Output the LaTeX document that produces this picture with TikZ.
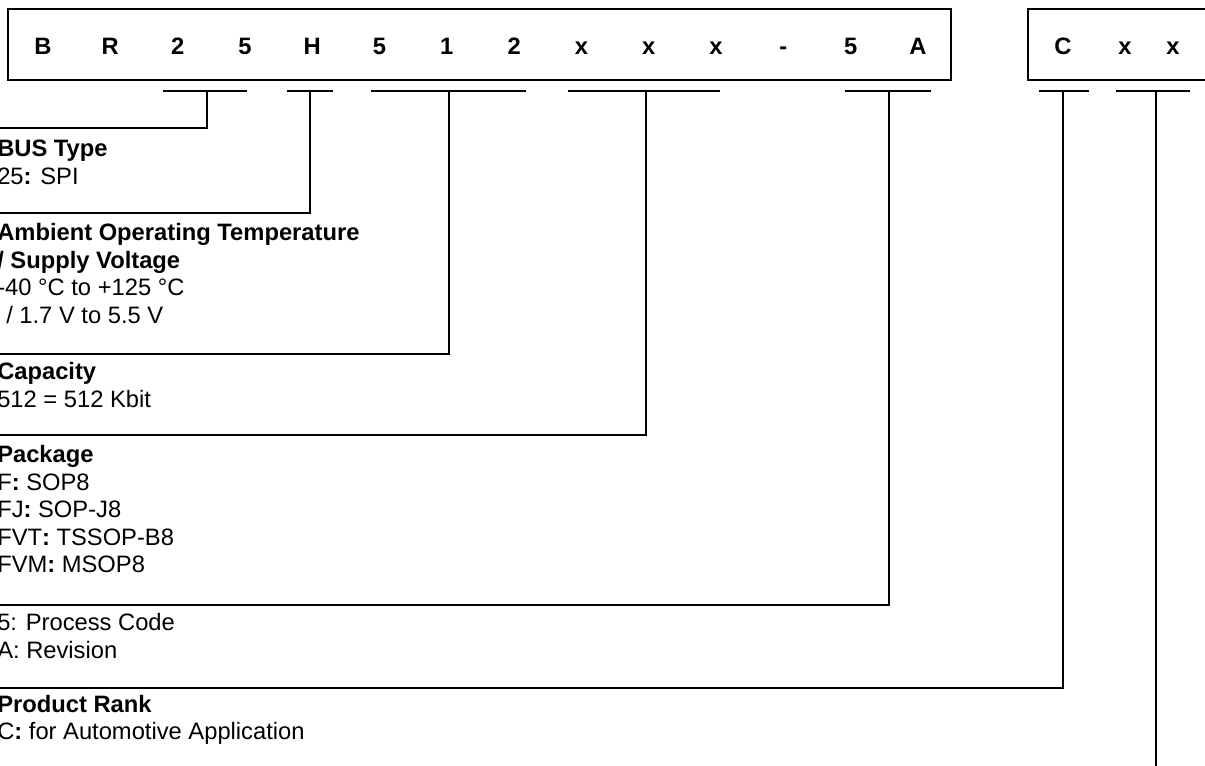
\documentclass[tikz,border=0pt]{standalone}
\usepackage{fontspec}
\setmainfont{Liberation Sans}
\begin{document}
\begin{tikzpicture}[x=0.75pt,y=-0.75pt,
  every node/.style={inner sep=0pt, font=\fontsize{17.8}{21}\selectfont},
  letter/.style={font=\fontsize{17.8}{21}\selectfont\bfseries, anchor=base},
  txt/.style={anchor=base west},
  ul/.style={line width=1pt},
  conn/.style={line width=1pt},
  boxline/.style={line width=1.3pt}]
\useasboundingbox (0,0) rectangle (1205,765);
% code boxes
\draw[boxline] (8,9) rectangle (951,80);
\draw[boxline] (1215,9) -- (1028,9) -- (1028,80) -- (1215,80);
\foreach \c [count=\i] in {B,R,2,5,H,5,1,2,x,x,x,-,5,A}
  \node[letter] (p\i) at ({43+(\i-1)*67.3},54) {\c};
\node[letter] (q1) at (1063,54) {C};
\node[letter] (q2) at (1125,54) {x};
\node[letter] (q3) at (1173,54) {x};
% underline coordinates
\coordinate (u1a) at (163,91);  \coordinate (u1b) at (247,91);  \coordinate (u1m) at (207,91);
\coordinate (u2a) at (287,91);  \coordinate (u2b) at (333,91);  \coordinate (u2m) at (310,91);
\coordinate (u3a) at (371,91);  \coordinate (u3b) at (526,91);  \coordinate (u3m) at (449,91);
\coordinate (u4a) at (568,91);  \coordinate (u4b) at (720,91);  \coordinate (u4m) at (646,91);
\coordinate (u5a) at (845,91);  \coordinate (u5b) at (931,91);  \coordinate (u5m) at (889,91);
\coordinate (u6a) at (1039,91); \coordinate (u6b) at (1089,91); \coordinate (u6m) at (1063,91);
\coordinate (u7a) at (1116,91); \coordinate (u7b) at (1190,91); \coordinate (u7m) at (1156,91);
% connector ends
\coordinate (e1) at (-6,128);
\coordinate (e2) at (-6,213);
\coordinate (e3) at (-6,354);
\coordinate (e4) at (-6,435);
\coordinate (e5) at (-6,605);
\coordinate (e6) at (-6,688);
\coordinate (e7) at (1156,775);
\foreach \k in {1,...,7} \draw[ul] (u\k a) -- (u\k b);
\foreach \k in {1,...,6} \draw[conn] (u\k m) |- (e\k);
\draw[conn, line width=1.3pt] (u7m) -- (e7);
% texts
\node[txt] (t1a) at (-3,156) {\textbf{BUS Type}};
\node[txt] (t1b) at (-3,184) {25\textbf{:} SPI};
\node[txt] (t2a) at (-3,240) {\textbf{Ambient Operating Temperature}};
\node[txt] (t2b) at (-3,268) {\textbf{/ Supply Voltage}};
\node[txt] (t2c) at (-3,295) {-40 °C to +125 °C};
\node[txt] (t2d) at (6,323) {/ 1.7 V to 5.5 V};
\node[txt] (t3a) at (-3,379) {\textbf{Capacity}};
\node[txt] (t3b) at (-3,407) {512 = 512 Kbit};
\node[txt] (t4a) at (-3,462) {\textbf{Package}};
\node[txt] (t4b) at (-3,490) {F\textbf{:} SOP8};
\node[txt] (t4c) at (-3,517) {FJ\textbf{:} SOP-J8};
\node[txt] (t4d) at (-3,545) {FVT\textbf{:} TSSOP-B8};
\node[txt] (t4e) at (-3,572) {FVM\textbf{:} MSOP8};
\node[txt] (t5a) at (-3,630) {5: Process Code};
\node[txt] (t5b) at (-3,658) {A: Revision};
\node[txt] (t6a) at (-3,712) {\textbf{Product Rank}};
\node[txt] (t6b) at (-3,739) {C\textbf{:} for Automotive Application};
\end{tikzpicture}
\end{document}
